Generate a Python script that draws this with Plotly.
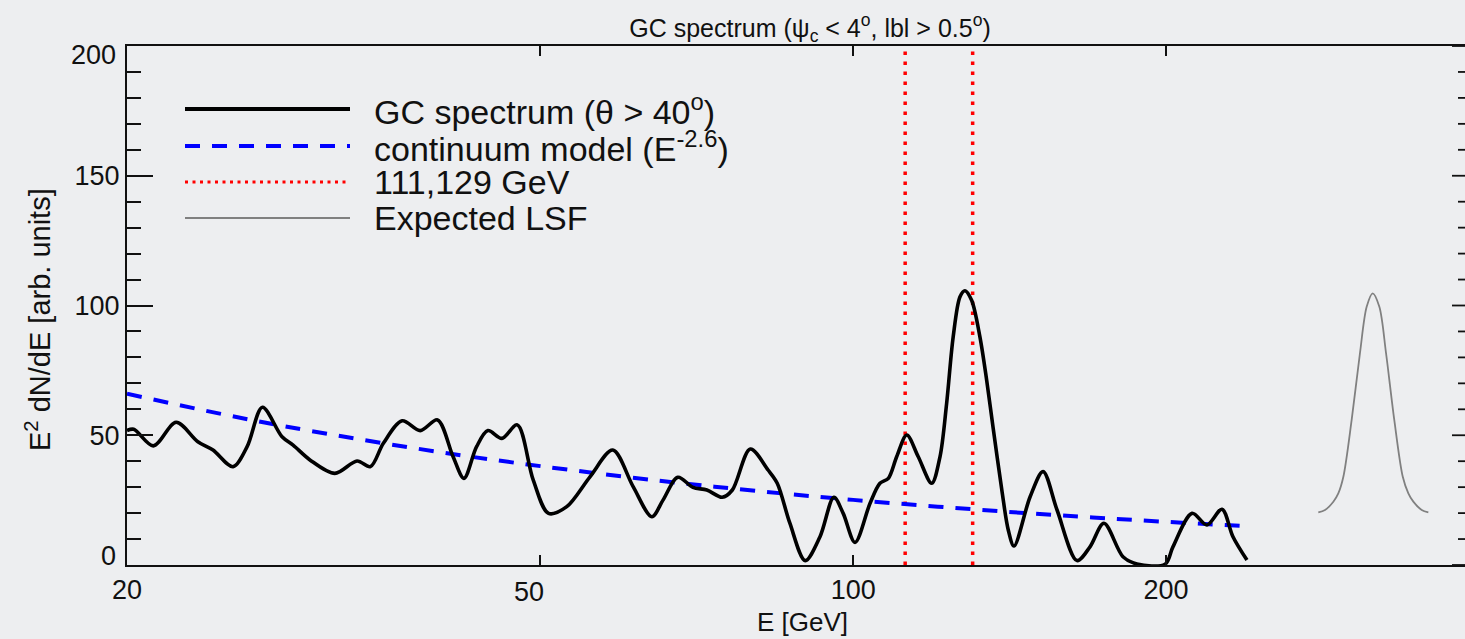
import math
import plotly.graph_objects as go

# ---- data ----
gc_energy = [20.0, 20.3, 21.2, 22.3, 23.4, 24.2, 25.3, 26.1, 27.0, 28.2, 28.9, 30.0, 31.7, 33.3,
             34.3, 35.3, 36.8, 38.3, 39.8, 41.2, 42.2, 43.4, 44.5, 45.9, 47.5, 49.2, 50.9, 53.0,
             55.8, 58.7, 61.4, 64.0, 65.6, 67.8, 70.1, 72.3, 74.8, 76.5, 79.6, 82.8, 84.5, 86.9,
             89.9, 92.9, 95.8, 97.8, 100.4, 103.8, 106.1, 108.1, 110.1, 112.6, 115.5, 119.0,
             121.2, 123.0, 124.8, 126.7, 128.1, 130.0, 132.4, 134.4, 136.3, 139.0, 141.0, 142.8,
             148.0, 152.3, 157.1, 164.2, 169.0, 174.3, 181.8, 187.5, 199.6, 203.1, 211.9, 219.0,
             226.4, 232.0, 239.3]
gc_flux = [51.8, 52.3, 45.9, 55.0, 47.5, 44.3, 37.9, 45.6, 60.8, 49.4, 46.2, 40.5, 35.3, 40.1,
           37.9, 46.9, 55.6, 51.8, 55.9, 41.7, 33.4, 45.6, 51.8, 48.8, 54.0, 32.8, 19.9, 22.5,
           34.0, 44.3, 30.2, 18.6, 25.0, 33.8, 29.9, 28.9, 26.1, 28.9, 44.7, 36.6, 31.5, 16.1,
           1.7, 10.9, 26.1, 19.9, 8.7, 23.8, 31.5, 33.4, 41.7, 50.1, 41.7, 31.5,
           41.7, 62.3, 88.0, 103.4, 105.7, 102.0, 88.0, 71.3, 53.3, 28.9, 13.5, 7.3,
           26.3, 36.0, 21.2, 1.7, 7.0, 16.1, 3.2, 0.4, 0.3, 7.0, 19.9, 15.4,
           21.5, 10.9, 1.9]

cont_energy = [20, 25, 30, 40, 50, 65, 80, 100, 130, 170, 240]
cont_flux = [66.0, 57.7, 51.7, 43.5, 38.1, 32.5, 28.7, 25.1, 21.5, 18.3, 14.9]

line_energies = [112.2, 130.3]
y_range = [0, 200]

lsf_energy = [280.3, 284.5, 289.8, 293.0, 296.3, 301.8, 307.4, 312.0, 316.2, 320.9, 325.7,
              331.7, 338.0, 342.2, 346.0, 352.5, 357.7]
lsf_flux = [20.3, 21.2, 24.4, 27.6, 34.0, 55.9, 81.6, 99.5, 104.7, 99.5, 81.6,
            55.9, 34.0, 27.6, 24.4, 21.2, 20.3]

x_ticks = [20, 50, 100, 200]
x_ticktext = ["20", "", "100", "200"]   # "50" drawn separately (slightly left of its tick, as in the reference)
y_ticks = [0, 50, 100, 150, 200]

legend_labels = ["GC spectrum (θ &gt; 40<sup>o</sup>)",
                 "continuum model (E<sup>-2.6</sup>)",
                 "111,129 GeV",
                 "Expected LSF"]

FONT = "Liberation Sans, Arial, Helvetica, sans-serif"
BG = "#edeef0"
INK = "#111111"

fig = go.Figure()

# red dotted line energies
for e in line_energies:
    fig.add_trace(go.Scatter(x=[e, e], y=y_range, mode="lines",
                             line=dict(color="#ff0000", width=3.5, dash="3.5px,6.5px"),
                             showlegend=False, hoverinfo="skip"))

fig.add_trace(go.Scatter(x=cont_energy, y=cont_flux, mode="lines",
                         line=dict(color="#0000ff", width=4, dash="15px,12px", shape="spline"),
                         showlegend=False))

fig.add_trace(go.Scatter(x=gc_energy, y=gc_flux, mode="lines",
                         line=dict(color="black", width=3.6, shape="spline", smoothing=0.9),
                         showlegend=False))

fig.add_trace(go.Scatter(x=lsf_energy, y=lsf_flux, mode="lines",
                         line=dict(color="#808080", width=1.8, shape="spline", smoothing=0.9),
                         showlegend=False))

# ---- layout geometry ----
W, H = 1465, 639
L, R, T, B = 127, 0, 46, 74
pw = W - L - R
ph = H - T - B
x_lo = math.log10(20)
px_per_decade = 1039.0
x_hi = x_lo + pw / px_per_decade


def px2paper_x(px):
    return (px - L) / pw


def py2paper_y(py):
    return (H - B - py) / ph


fig.update_layout(
    width=W, height=H,
    margin=dict(l=L, r=R, t=T, b=B),
    paper_bgcolor=BG, plot_bgcolor=BG,
    font=dict(family=FONT, color=INK, size=27),
    showlegend=False,
    title=dict(text="GC spectrum (ψ<sub>c</sub> &lt; 4<sup>o</sup>, lbl &gt; 0.5<sup>o</sup>)",
               x=px2paper_x(810), xref="paper", xanchor="center",
               y=1 - 28 / H, yref="container", yanchor="middle",
               font=dict(family=FONT, size=25, color=INK)),
)

fig.update_xaxes(type="log", range=[x_lo, x_hi], showgrid=False, zeroline=False,
                 showline=True, linecolor=INK, linewidth=2, mirror="ticks",
                 ticks="inside", ticklen=10, tickwidth=1.8, tickcolor=INK,
                 tickvals=x_ticks, ticktext=x_ticktext,
                 tickfont=dict(family=FONT, size=27, color=INK))

fig.update_yaxes(range=y_range, showgrid=False, zeroline=False,
                 showline=True, linecolor=INK, linewidth=2, mirror=False,
                 ticks="inside", ticklen=26, tickwidth=1.8, tickcolor=INK,
                 tickvals=y_ticks, ticktext=["", "50", "100", "150", ""],
                 tickfont=dict(family=FONT, size=27, color=INK),
                 minor=dict(ticks="inside", ticklen=14, tickwidth=1.8, tickcolor=INK,
                            dtick=10, showgrid=False))

shapes = []
# right-side ticks (the frame itself is cropped at the image edge)
for v in range(0, 201, 10):
    major = (v % 50 == 0)
    x0 = px2paper_x(1452 if major else 1458)
    shapes.append(dict(type="line", xref="paper", yref="y", x0=x0, x1=1.0, y0=v, y1=v,
                       line=dict(color=INK, width=1.8)))

annotations = [
    dict(text="0", x=0, xref="paper", y=0, yref="y", xanchor="right", yanchor="middle",
         xshift=-9, yshift=9, showarrow=False, font=dict(family=FONT, size=27, color=INK)),
    dict(text="200", x=0, xref="paper", y=200, yref="y", xanchor="right", yanchor="middle",
         xshift=-9, yshift=-8.5, showarrow=False, font=dict(family=FONT, size=27, color=INK)),
    dict(text="50", x=math.log10(50), xref="x", y=py2paper_y(592), yref="paper",
         xanchor="center", yanchor="middle", xshift=-11, showarrow=False,
         font=dict(family=FONT, size=27, color=INK)),
    dict(text="E [GeV]", x=px2paper_x(802), xref="paper", y=py2paper_y(622), yref="paper",
         xanchor="center", yanchor="middle", showarrow=False,
         font=dict(family=FONT, size=26, color=INK)),
    dict(text="E<sup>2</sup> dN/dE [arb. units]", x=px2paper_x(38), xref="paper",
         y=py2paper_y(320), yref="paper", xanchor="center", yanchor="middle",
         textangle=-90, showarrow=False, font=dict(family=FONT, size=29, color=INK)),
]

# legend (drawn as key lines + text)
legend_rows_py = [109, 146, 182, 218]
legend_styles = [dict(color="black", width=4, dash="solid"),
                 dict(color="#0000ff", width=4, dash="15px,12px"),
                 dict(color="#ff0000", width=3, dash="3px,4.5px"),
                 dict(color="#808080", width=2.2, dash="solid")]
for py, sty, lab in zip(legend_rows_py, legend_styles, legend_labels):
    yp = py2paper_y(py)
    shapes.append(dict(type="line", xref="paper", yref="paper",
                       x0=px2paper_x(185), x1=px2paper_x(350), y0=yp, y1=yp, line=sty))
    annotations.append(dict(text=lab, x=px2paper_x(372), xref="paper", y=yp, yref="paper",
                            xanchor="left", yanchor="middle", showarrow=False,
                            font=dict(family=FONT, size=34, color=INK)))

fig.update_layout(shapes=shapes, annotations=annotations)

fig.write_html("out.html")
